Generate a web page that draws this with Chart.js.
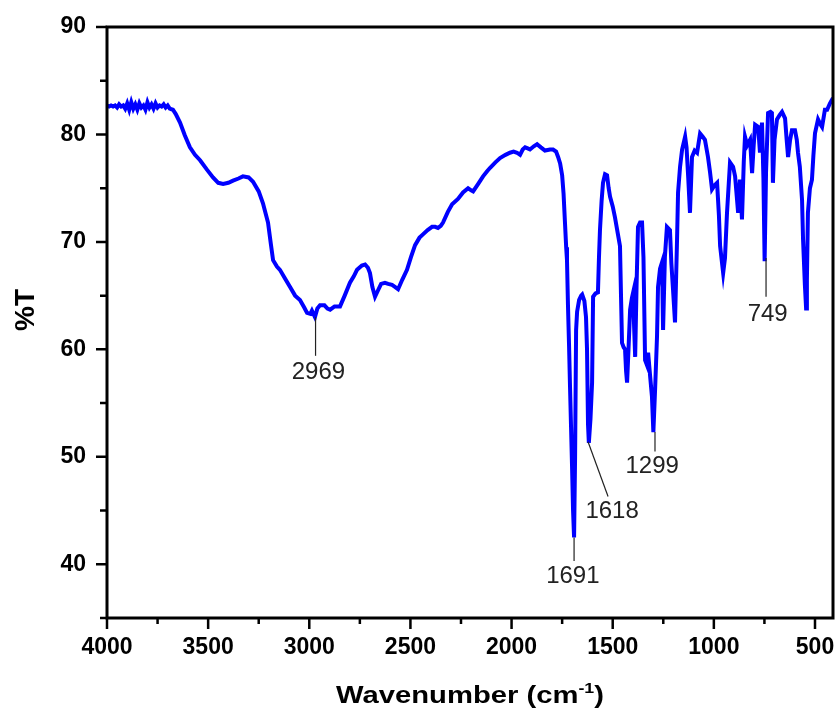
<!DOCTYPE html>
<html>
<head>
<meta charset="utf-8">
<title>FTIR spectrum</title>
<script src="https://cdn.jsdelivr.net/npm/chart.js@4"></script>
<style>
  body { margin: 0; background: #fff; }
  canvas { display: block; }
</style>
</head>
<body>
<canvas id="ftir" width="839" height="717"></canvas>
<script>
// Spectrum: wavenumber (cm-1) and transmittance (%T)
const wavenumbers = [
  4000, 3990, 3980, 3970, 3960, 3950, 3940, 3930, 3920, 3910, 3900, 3890, 3880, 3870, 3860, 3850,
  3840, 3830, 3820, 3810, 3800, 3790, 3780, 3770, 3760, 3750, 3740, 3730, 3720, 3710, 3700, 3690,
  3674, 3660, 3639, 3615, 3590, 3565, 3540, 3505, 3476, 3450,
  3426, 3400, 3377, 3350, 3328, 3300, 3278, 3250, 3229, 3204, 3190, 3179, 3160, 3145, 3120, 3095,
  3070, 3046, 3025, 3011, 2995, 2987, 2972, 2960, 2947, 2925, 2910, 2897, 2875, 2848, 2825, 2799,
  2780, 2764, 2740, 2724, 2710, 2700, 2688, 2675, 2660, 2645, 2626, 2610, 2591, 2575, 2561, 2540,
  2517, 2497, 2477, 2455, 2438, 2415, 2393, 2378, 2364, 2350, 2339, 2315, 2294, 2265, 2240, 2215,
  2200, 2190, 2165, 2141, 2120, 2106, 2080, 2057, 2030, 2008, 1990, 1973, 1958, 1945, 1933, 1920,
  1909, 1890, 1874, 1855, 1835, 1810, 1795, 1780, 1770, 1760, 1750, 1743, 1736, 1730, 1726, 1721,
  1716, 1711, 1706, 1701, 1696, 1691, 1686, 1681, 1676, 1666, 1656, 1651, 1640, 1632, 1627, 1622,
  1618, 1610, 1602, 1597, 1585, 1573, 1568, 1563, 1555, 1548, 1538, 1528, 1520, 1513, 1500, 1489,
  1475, 1464, 1459, 1454, 1446, 1439, 1434, 1429, 1422, 1414, 1405, 1399, 1394, 1389, 1382, 1375,
  1365, 1355, 1348, 1340, 1330, 1325, 1315, 1306, 1299, 1290, 1281, 1276, 1266, 1256, 1251, 1242,
  1232, 1217, 1210, 1202, 1192, 1182, 1177, 1167, 1157, 1142, 1135, 1127, 1118, 1108, 1095, 1083,
  1068, 1055, 1044, 1029, 1019, 1009, 995, 984, 975, 969, 954, 945, 935, 920, 905, 895,
  880, 871, 861, 852, 846, 835, 821, 811, 803, 796, 781, 772, 762, 755, 749, 742,
  732, 720, 713, 708, 700, 688, 675, 663, 648, 640, 633, 623, 614, 599, 590, 584,
  575, 564, 559, 550, 544, 540, 535, 525, 515, 508, 500, 485, 475, 465, 451, 440,
  426, 411
];
const transmittance = [
  82.7, 82.6, 82.7, 82.6, 82.7, 82.5, 82.8, 82.6, 82.7, 82.4, 82.9, 82.3, 83.0, 82.4, 82.8, 82.3,
  82.9, 82.5, 82.7, 82.3, 83.0, 82.5, 82.8, 82.4, 82.9, 82.5, 82.7, 82.6, 82.8, 82.5, 82.7, 82.4,
  82.3, 81.9, 81.1, 79.9, 78.8, 78.1, 77.6, 76.7, 76.0, 75.5,
  75.4, 75.5, 75.7, 75.9, 76.1, 76.0, 75.6, 74.7, 73.6, 71.8, 69.8, 68.3, 67.7, 67.4, 66.6, 65.8,
  65.0, 64.6, 63.9, 63.4, 63.3, 63.6, 63.0, 63.8, 64.1, 64.1, 63.8, 63.7, 64.0, 64.0, 65.0, 66.2,
  66.8, 67.4, 67.8, 67.9, 67.6, 67.1, 65.8, 64.9, 65.5, 66.1, 66.2, 66.1, 66.0, 65.8, 65.6, 66.5,
  67.4, 68.6, 69.7, 70.4, 70.7, 71.1, 71.4, 71.4, 71.3, 71.5, 71.8, 72.8, 73.5, 74.0, 74.6, 75.0,
  74.8, 74.7, 75.4, 76.1, 76.6, 76.9, 77.4, 77.8, 78.1, 78.3, 78.4, 78.3, 78.1, 78.6, 78.8, 78.7,
  78.6, 78.9, 79.1, 78.8, 78.5, 78.6, 78.6, 78.4, 77.9, 77.3, 76.2, 74.5, 71.8, 69.5, 68.3, 64.0,
  60.5, 56.5, 52.8, 49.1, 45.0, 42.5, 50.0, 61.8, 63.5, 64.6, 65.0, 65.1, 64.5, 63.0, 60.0, 53.0,
  51.3, 53.5, 56.9, 64.9, 65.2, 65.3, 68.5, 71.1, 73.8, 75.5, 76.3, 76.2, 75.0, 74.2, 73.3, 72.3,
  70.8, 69.6, 65.0, 60.6, 60.2, 60.0, 58.0, 56.9, 60.0, 63.7, 64.8, 65.3, 62.0, 59.3, 66.0, 71.4,
  71.8, 71.8, 68.6, 59.0, 58.5, 59.7, 57.5, 55.6, 52.3, 56.5, 61.2, 65.8, 67.5, 68.1, 61.8, 68.6,
  71.4, 71.1, 68.0, 65.6, 62.5, 70.2, 74.6, 77.0, 78.6, 79.8, 78.8, 76.1, 72.7, 77.9, 78.5, 78.3,
  80.1, 79.8, 79.5, 77.9, 76.5, 74.9, 75.3, 75.5, 72.5, 69.6, 67.1, 68.5, 72.7, 77.4, 77.0, 76.1,
  72.7, 75.8, 72.1, 77.5, 79.8, 79.0, 79.5, 76.4, 79.0, 80.9, 80.7, 78.3, 81.1, 76.0, 68.2, 76.5,
  82.0, 82.1, 82.0, 75.5, 79.5, 81.4, 81.8, 82.1, 81.5, 79.5, 77.9, 79.5, 80.4, 80.4, 79.5, 78.3,
  77.0, 73.9, 70.2, 66.0, 63.8, 66.5, 72.7, 75.0, 75.8, 78.0, 80.1, 81.4, 81.0, 80.7, 82.3, 82.3,
  82.9, 83.4
];

// Axis ticks
const xMajorTicks = [4000, 3500, 3000, 2500, 2000, 1500, 1000, 500];
const xMinorTicks = [3750, 3250, 2750, 2250, 1750, 1250, 750];
const yMajorTicks = [40, 50, 60, 70, 80, 90];
const yMinorTicks = [35, 45, 55, 65, 75, 85];

// Marked peaks
const peakLabels = ['2969', '1691', '1618', '1299', '749'];

// Leader lines and label spots (data units)
const peakMarks = [
  { x1: 2969, y1: 63.0, x2: 2969, y2: 59.4, tx: 2955, ty: 57.9 },
  { x1: 1691, y1: 42.5, x2: 1691, y2: 40.3, tx: 1697, ty: 38.9 },
  { x1: 1622, y1: 51.4, x2: 1523, y2: 46.3, tx: 1503, ty: 44.9 },
  { x1: 1291, y1: 52.3, x2: 1291, y2: 50.5, tx: 1305, ty: 49.1 },
  { x1: 742, y1: 68.5, x2: 742, y2: 64.9, tx: 734, ty: 63.3 }
];

const frameAndLabels = {
  id: 'frameAndLabels',
  afterDatasetsDraw(chart) {
    const ctx = chart.ctx;
    const area = chart.chartArea;
    const xs = chart.scales.x;
    const ys = chart.scales.y;
    ctx.save();

    // axis box
    ctx.strokeStyle = '#000';
    ctx.lineWidth = 3;
    ctx.strokeRect(area.left, area.top, area.right - area.left, area.bottom - area.top);

    // outward ticks
    ctx.lineWidth = 2.5;
    ctx.beginPath();
    xMajorTicks.forEach(v => {
      const px = xs.getPixelForValue(v);
      ctx.moveTo(px, area.bottom); ctx.lineTo(px, area.bottom + 11);
    });
    xMinorTicks.forEach(v => {
      const px = xs.getPixelForValue(v);
      ctx.moveTo(px, area.bottom); ctx.lineTo(px, area.bottom + 6);
    });
    yMajorTicks.forEach(v => {
      const py = ys.getPixelForValue(v);
      ctx.moveTo(area.left, py); ctx.lineTo(area.left - 11, py);
    });
    yMinorTicks.forEach(v => {
      const py = ys.getPixelForValue(v);
      ctx.moveTo(area.left, py); ctx.lineTo(area.left - 7, py);
    });
    ctx.stroke();

    // peak annotations
    ctx.strokeStyle = '#222';
    ctx.lineWidth = 1.2;
    ctx.fillStyle = '#222';
    ctx.font = '24px "Liberation Sans", Arial, sans-serif';
    ctx.textAlign = 'center';
    ctx.textBaseline = 'middle';
    peakMarks.forEach((m, i) => {
      ctx.beginPath();
      ctx.moveTo(xs.getPixelForValue(m.x1), ys.getPixelForValue(m.y1));
      ctx.lineTo(xs.getPixelForValue(m.x2), ys.getPixelForValue(m.y2));
      ctx.stroke();
      ctx.fillText(peakLabels[i], xs.getPixelForValue(m.tx), ys.getPixelForValue(m.ty));
    });

    // y title
    ctx.fillStyle = '#000';
    ctx.save();
    ctx.translate(26, 310);
    ctx.rotate(-Math.PI / 2);
    ctx.font = 'bold 28px "Liberation Sans", Arial, sans-serif';
    ctx.fillText('%T', 0, 0);
    ctx.restore();

    // x title with superscript
    const main = 'Wavenumber (cm';
    const sup = '-1';
    const close = ')';
    const big = 'bold 23px "Liberation Sans", Arial, sans-serif';
    const small = 'bold 14px "Liberation Sans", Arial, sans-serif';
    ctx.font = big;
    const wMain = ctx.measureText(main).width;
    const wClose = ctx.measureText(close).width;
    ctx.font = small;
    const wSup = ctx.measureText(sup).width;
    const sx = 1.27;
    const total = (wMain + wSup + wClose) * sx;
    ctx.save();
    ctx.translate(470 - total / 2, 703);
    ctx.scale(sx, 1);
    ctx.textAlign = 'left';
    ctx.textBaseline = 'alphabetic';
    ctx.font = big;
    ctx.fillText(main, 0, 0);
    ctx.font = small;
    ctx.fillText(sup, wMain, -10);
    ctx.font = big;
    ctx.fillText(close, wMain + wSup, 0);
    ctx.restore();

    ctx.restore();
  }
};

const tickFont = { family: '"Liberation Sans", Arial, sans-serif', size: 23, weight: 'bold' };

const configFtir = {
  type: 'line',
  data: {
    datasets: [{
      label: '%T',
      data: wavenumbers.map((w, i) => ({ x: w, y: transmittance[i] })),
      borderColor: '#0000ff',
      borderWidth: 4,
      pointRadius: 0,
      tension: 0,
      fill: false
    }]
  },
  options: {
    responsive: false,
    animation: false,
    layout: { padding: { top: 27, right: 6, left: 0, bottom: 0 } },
    plugins: {
      legend: { display: false },
      tooltip: { enabled: false }
    },
    scales: {
      x: {
        type: 'linear',
        reverse: true,
        min: 411,
        max: 4000,
        grid: { display: false, drawTicks: false },
        border: { display: false },
        afterBuildTicks: scale => { scale.ticks = xMajorTicks.map(v => ({ value: v })); },
        afterFit: scale => {
          scale.height = 99;
          scale.paddingLeft = 0;
          scale.paddingRight = 0;
        },
        ticks: {
          color: '#000',
          font: tickFont,
          padding: 16,
          autoSkip: false,
          maxRotation: 0,
          callback: v => String(v)
        }
      },
      y: {
        type: 'linear',
        min: 35,
        max: 90,
        grid: { display: false, drawTicks: false },
        border: { display: false },
        afterBuildTicks: scale => { scale.ticks = yMajorTicks.map(v => ({ value: v })); },
        afterFit: scale => {
          scale.width = 107;
          scale.paddingTop = 0;
          scale.paddingBottom = 0;
        },
        ticks: {
          color: '#000',
          font: tickFont,
          padding: 21,
          callback: v => String(v)
        }
      }
    }
  },
  plugins: [frameAndLabels]
};

const ftirChart = new Chart(document.getElementById('ftir'), configFtir);
</script>
</body>
</html>
